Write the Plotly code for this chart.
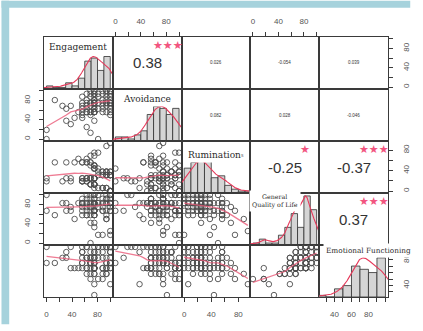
import numpy as np
import plotly.graph_objects as go

# ---------------- data ----------------
var_names = ["Engagement", "Avoidance", "Rumination",
             "General<br>Quality of Life", "Emotional Functioning"]

engagement = [0, 0, 13, 25, 31, 31, 38, 38, 44, 50,
              56, 56, 56, 56, 56, 56, 56,
              63, 63, 63, 63, 63, 63, 63, 63,
              69, 69, 69, 69, 69, 69, 69, 69, 69, 69,
              75, 75, 75, 75, 75, 75, 75, 75, 75, 75,
              75, 75, 75, 75, 75, 75, 75, 75, 75, 75,
              81, 81, 81, 81, 81,
              88, 88, 88, 88, 88, 88, 88,
              94, 94, 94, 94, 94, 94, 94, 94, 94,
              100, 100, 100, 100, 100, 100, 100, 100, 100, 100, 100, 100]

avoidance = [0, 19, 81, 69, 38, 63, 31, 69, 44, 56,
             50, 56, 63, 69, 75, 44, 88,
             56, 63, 69, 75, 81, 94, 25, 56,
             56, 56, 69, 75, 75, 88, 94, 100, 50, 13,
             56, 56, 63, 63, 56, 75, 75, 75, 75, 81,
             81, 88, 94, 94, 100, 100, 56, 69, 38, 75,
             0, 63, 75, 88, 94,
             56, 69, 75, 81, 94, 100, 63,
             56, 75, 69, 75, 81, 88, 94, 100, 100,
             56, 63, 75, 75, 75, 81, 88, 94, 100, 100, 50, 69]

rumination = [19, 25, 56, 19, 25, 56, 19, 25, 56, 63,
              19, 25, 56, 19, 25, 56, 19, 25, 56, 63,
              19, 25, 56, 19, 25, 56, 13, 25, 56, 69,
              13, 25, 50, 13, 25, 50, 13, 25, 50, 69,
              13, 25, 50, 13, 25, 44, 13, 25, 44, 75,
              13, 25, 44, 6, 25, 44, 6, 31, 38, 75,
              6, 31, 38, 6, 31, 38, 6, 31, 38, 88,
              6, 31, 38, 6, 31, 38, 0, 31, 38, 94,
              0, 31, 38, 31, 0, 0, 0, 0]

quality_of_life = [67, 100, 58, 83, 83, 67, 75, 67, 50, 83,
                   83, 92, 75, 67, 58, 83, 83, 83, 58, 58,
                   92, 75, 67, 100, 83, 83, 58, 42, 92, 75,
                   83, 100, 0, 75, 67, 67, 83, 83, 83, 42,
                   67, 92, 100, 92, 58, 33, 83, 83, 58, 67,
                   100, 67, 67, 58, 75, 83, 83, 100, 75, 17,
                   92, 83, 17, 67, 67, 83, 75, 92, 92, 50,
                   83, 83, 50, 100, 58, 67, 83, 75, 83, 25,
                   92, 83, 100, 67, 17, 67, 83, 100]

emotional_functioning = [75, 100, 75, 83, 92, 83, 100, 67, 67, 67,
                         67, 83, 92, 75, 75, 100, 92, 100, 58, 83,
                         83, 67, 67, 100, 83, 75, 83, 58, 92, 75,
                         75, 75, 50, 67, 83, 67, 67, 67, 75, 58,
                         58, 100, 83, 75, 67, 25, 92, 75, 67, 67,
                         83, 92, 75, 42, 83, 100, 100, 92, 83, 50,
                         67, 100, 50, 92, 58, 67, 83, 75, 100, 58,
                         75, 83, 58, 100, 67, 67, 83, 100, 75, 42,
                         100, 75, 92, 67, 67, 75, 100, 92]

# correlations printed in the upper panels (row-major upper triangle)
cor_values = [0.38, 0.026, -0.054, 0.039,
              0.082, 0.028, -0.046,
              -0.25, -0.37,
              0.37]
cor_stars = ["***", "", "", "",
             "", "", "",
             "*", "***",
             "***"]

tick_vals = [[0, 20, 40, 60, 80, 100]] * 4 + [[30, 40, 50, 60, 70, 80, 90, 100]]
tick_text_x = [["0", "", "40", "", "80", ""]] * 4 + [["", "40", "", "60", "", "80", "", ""]]
tick_text_y = [["0", "", "40", "", "80", ""]] * 4 + [["", "40", "", "", "", "80", "", ""]]

# ---------------- helpers ----------------
series = [engagement, avoidance, rumination, quality_of_life, emotional_functioning]
n = len(series)
W, H = 423, 331
ML, MR, MT, MB = 44, 23, 37, 28

LINE = "#3a3a3a"
RED = "#e6395a"
SMOOTH = "rgba(234,90,120,0.8)"
STAR = "#f2557f"
HIST = "#d5d5d5"
PT = "#4d4d4d"
diag_top = [1.6, 1.5, 1.6, 1.06, 1.33]
hist_start = [0, 0, 0, 0, 20]


def data_range(v):
    lo, hi = min(v), max(v)
    p = 0.04 * (hi - lo)
    return [lo - p, hi + p]


def sfx(k):
    return "" if k == 1 else str(k)


def lowess(x, y, f=2 / 3, iters=3):
    x = np.asarray(x, float)
    y = np.asarray(y, float)
    o = np.argsort(x, kind="mergesort")
    x, y = x[o], y[o]
    m = len(x)
    r = max(2, int(np.ceil(f * m)))
    fit = np.zeros(m)
    rob = np.ones(m)
    for _ in range(iters + 1):
        for i in range(m):
            d = np.abs(x - x[i])
            h = max(np.sort(d)[r - 1], 1e-6)
            u = np.clip(d / h, 0, 1)
            w = (1 - u ** 3) ** 3 * rob
            sw = w.sum()
            if sw <= 0:
                fit[i] = y[i]
                continue
            xm = (w * x).sum() / sw
            ym = (w * y).sum() / sw
            sxx = (w * (x - xm) ** 2).sum()
            b = (w * (x - xm) * (y - ym)).sum() / sxx if sxx > 1e-9 else 0.0
            fit[i] = ym + b * (x[i] - xm)
        res = y - fit
        s = np.median(np.abs(res))
        if s <= 1e-9:
            break
        u = np.clip(res / (6 * s), -1, 1)
        rob = (1 - u ** 2) ** 2
    ux, idx = np.unique(x, return_index=True)
    return ux, fit[idx]


def kde(v):
    v = np.asarray(v, float)
    m = len(v)
    sd = v.std(ddof=1)
    q75, q25 = np.percentile(v, [75, 25])
    lo = min(sd, (q75 - q25) / 1.34) if q75 > q25 else sd
    bw = 1.06 * lo * m ** (-0.2) * 1.2
    g = np.linspace(v.min() - 3 * bw, v.max() + 3 * bw, 300)
    d = np.exp(-0.5 * ((g[:, None] - v[None, :]) / bw) ** 2).sum(1)
    return g, d / d.max()


ranges = [data_range(v) for v in series]

fig = go.Figure()
layout = dict(width=W, height=H, margin=dict(l=ML, r=MR, t=MT, b=MB),
              paper_bgcolor="white", plot_bgcolor="white", showlegend=False,
              font=dict(family="Liberation Sans, Arial, sans-serif", color="#444"),
              hovermode=False)
annotations = []

base_axis = dict(showline=True, mirror=True, linecolor=LINE, linewidth=1,
                 showgrid=False, zeroline=False, ticks="", showticklabels=False,
                 fixedrange=True)
tick_style = dict(ticks="outside", ticklen=4, tickwidth=1, tickcolor=LINE,
                  showticklabels=True, tickmode="array",
                  tickfont=dict(size=8, color="#555"))

upper_idx = 0
for i in range(n):
    for j in range(n):
        k = i * n + j + 1
        xa = dict(base_axis, domain=[j / n, (j + 1) / n], anchor="y" + sfx(k),
                  range=ranges[j])
        ya = dict(base_axis, domain=[1 - (i + 1) / n, 1 - i / n], anchor="x" + sfx(k),
                  range=ranges[i])
        if i == j:
            ya["range"] = [0, diag_top[i]]
        if i == 0 and j % 2 == 1:
            xa.update(tick_style, side="top", tickvals=tick_vals[j],
                      ticktext=tick_text_x[j], ticklabelstandoff=5)
        if i == n - 1 and j % 2 == 0:
            xa.update(tick_style, side="bottom", tickvals=tick_vals[j],
                      ticktext=tick_text_x[j], ticklabelstandoff=5)
        if j == 0 and i % 2 == 1:
            ya.update(tick_style, side="left", tickvals=tick_vals[i],
                      ticktext=tick_text_y[i], tickangle=-90, ticklabelstandoff=6)
        if j == n - 1 and i % 2 == 0 and i != j:
            ya.update(tick_style, side="right", tickvals=tick_vals[i],
                      ticktext=tick_text_y[i], tickangle=-90, ticklabelstandoff=6)
        layout["xaxis" + sfx(k)] = xa
        layout["yaxis" + sfx(k)] = ya
        xr, yr = "x" + sfx(k), "y" + sfx(k)

        if i == j:
            v = np.asarray(series[i], float)
            edges = np.arange(hist_start[i], 101, 10)
            b = np.clip(np.searchsorted(edges, v, side="left") - 1, 0, len(edges) - 2)
            counts = np.bincount(b, minlength=len(edges) - 1)
            centers = (edges[:-1] + edges[1:]) / 2
            fig.add_trace(go.Bar(x=centers, y=counts / counts.max(), width=10,
                                 marker=dict(color=HIST, line=dict(color="#2e2e2e", width=0.8)),
                                 xaxis=xr, yaxis=yr))
            g, d = kde(v)
            fig.add_trace(go.Scatter(x=g, y=d, mode="lines",
                                     line=dict(color=RED, width=1.1),
                                     xaxis=xr, yaxis=yr))
        elif i > j:
            fig.add_trace(go.Scatter(x=series[j], y=series[i], mode="markers",
                                     marker=dict(symbol="circle-open", size=5.5, color=PT,
                                                 line=dict(width=0.9)),
                                     xaxis=xr, yaxis=yr))
            sx, sy = lowess(series[j], series[i])
            fig.add_trace(go.Scatter(x=sx, y=sy, mode="lines",
                                     line=dict(color=SMOOTH, width=1.3),
                                     xaxis=xr, yaxis=yr))
        else:
            fig.add_trace(go.Scatter(x=[None], y=[None], xaxis=xr, yaxis=yr))
            r = cor_values[upper_idx]
            big = abs(r) >= 0.2
            annotations.append(dict(xref=xr + " domain", yref=yr + " domain", x=0.5, y=0.5,
                                    text=f"{r:g}", showarrow=False,
                                    font=dict(size=15 if big else 4.5, color="#333"),
                                    xanchor="center", yanchor="middle"))
            if cor_stars[upper_idx]:
                annotations.append(dict(xref=xr + " domain", yref=yr + " domain", x=0.8, y=0.84,
                                        text="\u2605" * len(cor_stars[upper_idx]),
                                        showarrow=False,
                                        font=dict(size=11, color=STAR, family="DejaVu Sans"),
                                        xanchor="center", yanchor="middle"))
            upper_idx += 1

# right-hand axis of the last diagonal panel (Emotional Functioning scale)
kd = n * n
layout["yaxis" + str(kd + 1)] = dict(tick_style, overlaying="y" + str(kd), anchor="x" + str(kd),
                                     side="right", range=ranges[n - 1], showgrid=False,
                                     zeroline=False, showline=False, fixedrange=True,
                                     tickvals=tick_vals[n - 1], ticktext=tick_text_y[n - 1],
                                     tickangle=-90, ticklabelstandoff=6)
fig.add_trace(go.Scatter(x=[None], y=[None], xaxis="x" + str(kd), yaxis="y" + str(kd + 1)))

# diagonal labels
label_pos = [(0.5, 0.81), (0.5, 0.81), (0.48, 0.74), (0.36, 0.84), (0.72, 0.9)]
label_size = [9, 9, 9, 6.3, 7.3]
for i in range(n):
    k = i * n + i + 1
    annotations.append(dict(xref="x" + sfx(k) + " domain", yref="y" + sfx(k) + " domain",
                            x=label_pos[i][0], y=label_pos[i][1], text=var_names[i],
                            showarrow=False, bgcolor="white", borderpad=2,
                            font=dict(size=label_size[i], color="#2a2a2a",
                                      family="DejaVu Serif, serif"),
                            xanchor="center", yanchor="middle"))
k3 = 2 * n + 3
annotations.append(dict(xref="x" + str(k3) + " domain", yref="y" + str(k3) + " domain",
                        x=0.93, y=0.83, text="s", showarrow=False,
                        font=dict(size=5, color="#666")))
layout["annotations"] = annotations

# light-blue frame (top and left bands)
pw, ph = W - ML - MR, H - MT - MB
def px(x): return (x - ML) / pw
def py(y): return (H - MB - y) / ph
FRAME = "#a6d2dc"
layout["shapes"] = [
    dict(type="rect", xref="paper", yref="paper", x0=px(0), x1=px(8), y0=py(H), y1=py(0),
         fillcolor=FRAME, line=dict(width=0), layer="below"),
    dict(type="rect", xref="paper", yref="paper", x0=px(0), x1=px(W), y0=py(7), y1=py(0),
         fillcolor=FRAME, line=dict(width=0), layer="below"),
]

fig.update_layout(**layout)
fig.write_html("out.html", config={"displayModeBar": False, "staticPlot": True},
               post_script="document.body.style.margin='0';")
